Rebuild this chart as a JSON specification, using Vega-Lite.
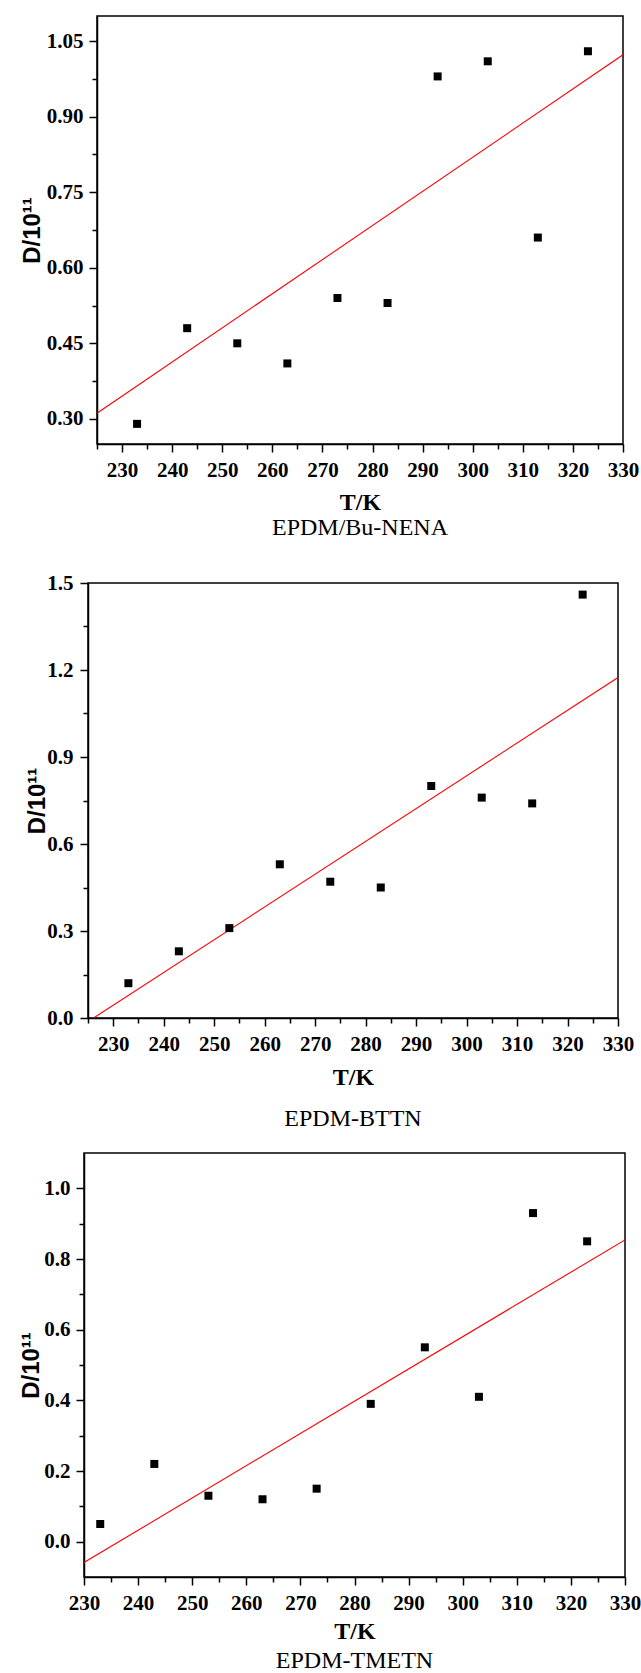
{
  "$schema": "https://vega.github.io/schema/vega-lite/v6.json",
  "padding": {"top": 15, "left": 0, "right": 0, "bottom": 0},
  "background": "white",
  "spacing": 20,
  "align": "none",
  "config": {
    "view": {"stroke": "black", "strokeWidth": 1.5},
    "axis": {
      "grid": false,
      "domainColor": "black",
      "domainWidth": 1.5,
      "tickColor": "black",
      "tickWidth": 1.5,
      "tickSize": 8,
      "labelFont": "Liberation Serif",
      "labelFontWeight": "bold",
      "labelFontSize": 21,
      "labelColor": "black",
      "titleColor": "black",
      "labelFlush": false,
      "labelOverlap": false
    },
    "axisX": {"titleFont": "Liberation Serif", "titleFontWeight": "bold", "titleFontSize": 24, "labelPadding": 7.5},
    "axisY": {"titleFont": "Liberation Sans", "titleFontWeight": "bold", "titleFontSize": 24}
  },
  "datasets": {
    "p1": [
      {"T": 233, "D": 0.29}, {"T": 243, "D": 0.48}, {"T": 253, "D": 0.45}, {"T": 263, "D": 0.41}, {"T": 273, "D": 0.54},
      {"T": 283, "D": 0.53}, {"T": 293, "D": 0.98}, {"T": 303, "D": 1.01}, {"T": 313, "D": 0.66}, {"T": 323, "D": 1.03}
    ],
    "l1": [{"T": 225, "D": 0.311}, {"T": 330, "D": 1.023}],
    "p2": [
      {"T": 233, "D": 0.12}, {"T": 243, "D": 0.23}, {"T": 253, "D": 0.31}, {"T": 263, "D": 0.53}, {"T": 273, "D": 0.47},
      {"T": 283, "D": 0.45}, {"T": 293, "D": 0.80}, {"T": 303, "D": 0.76}, {"T": 313, "D": 0.74}, {"T": 323, "D": 1.46}
    ],
    "l2": [{"T": 226.1, "D": 0.0}, {"T": 330, "D": 1.174}],
    "p3": [
      {"T": 233, "D": 0.05}, {"T": 243, "D": 0.22}, {"T": 253, "D": 0.13}, {"T": 263, "D": 0.12}, {"T": 273, "D": 0.15},
      {"T": 283, "D": 0.39}, {"T": 293, "D": 0.55}, {"T": 303, "D": 0.41}, {"T": 313, "D": 0.93}, {"T": 323, "D": 0.85}
    ],
    "l3": [{"T": 230, "D": -0.059}, {"T": 330, "D": 0.854}]
  },
  "vconcat": [
    {
      "spacing": 0,
      "hconcat": [
        {"width": 18.7, "height": 10, "view": {"stroke": null}, "data": {"values": []}, "mark": "point", "encoding": {}},
        {
          "width": 526, "height": 428,
          "title": {"text": "EPDM/Bu-NENA", "subtitle": " ", "subtitleFontSize": 10, "subtitlePadding": 0.5, "orient": "bottom", "anchor": "middle", "font": "Liberation Serif", "fontSize": 24, "fontWeight": "normal", "color": "black", "offset": 1},
          "resolve": {"axis": {"x": "independent", "y": "independent"}},
          "layer": [
            {
              "data": {"name": "l1"},
              "mark": {"type": "line", "color": "#ff0000", "strokeWidth": 1.1, "clip": true},
              "encoding": {
                "x": {"field": "T", "type": "quantitative", "scale": {"domain": [225, 330], "nice": false, "zero": false},
                  "axis": {"title": "T/K", "orient": "bottom", "titlePadding": 10, "values": [230,240,250,260,270,280,290,300,310,320,330]}},
                "y": {"field": "D", "type": "quantitative", "scale": {"domain": [0.25, 1.1], "nice": false, "zero": false},
                  "axis": {"title": "D/10¹¹", "orient": "left", "titlePadding": 2.25, "labelPadding": 6, "format": ".2f", "values": [0.3,0.45,0.6,0.75,0.9,1.05]}}
              }
            },
            {
              "data": {"name": "p1"},
              "mark": {"type": "square", "size": 64, "color": "black", "opacity": 1, "filled": true},
              "encoding": {
                "x": {"field": "T", "type": "quantitative",
                  "axis": {"title": null, "orient": "bottom", "labels": false, "domain": false, "tickSize": 5, "values": [225,235,245,255,265,275,285,295,305,315,325]}},
                "y": {"field": "D", "type": "quantitative",
                  "axis": {"title": null, "orient": "left", "labels": false, "domain": false, "tickSize": 5, "values": [0.375,0.525,0.675,0.825,0.975]}}
              }
            }
          ]
        }
      ]
    },
    {
      "spacing": 0,
      "hconcat": [
        {"width": 24, "height": 10, "view": {"stroke": null}, "data": {"values": []}, "mark": "point", "encoding": {}},
        {
          "width": 530, "height": 435,
          "title": {"text": "EPDM-BTTN", "orient": "bottom", "anchor": "middle", "font": "Liberation Serif", "fontSize": 24, "fontWeight": "normal", "color": "black", "offset": 17},
          "resolve": {"axis": {"x": "independent", "y": "independent"}},
          "layer": [
            {
              "data": {"name": "l2"},
              "mark": {"type": "line", "color": "#ff0000", "strokeWidth": 1.1, "clip": true},
              "encoding": {
                "x": {"field": "T", "type": "quantitative", "scale": {"domain": [225, 330], "nice": false, "zero": false},
                  "axis": {"title": "T/K", "orient": "bottom", "titlePadding": 11, "values": [230,240,250,260,270,280,290,300,310,320,330]}},
                "y": {"field": "D", "type": "quantitative", "scale": {"domain": [0, 1.5], "nice": false, "zero": false},
                  "axis": {"title": "D/10¹¹", "orient": "left", "titlePadding": -2.95, "labelPadding": 7, "format": ".1f", "values": [0,0.3,0.6,0.9,1.2,1.5]}}
              }
            },
            {
              "data": {"name": "p2"},
              "mark": {"type": "square", "size": 64, "color": "black", "opacity": 1, "filled": true},
              "encoding": {
                "x": {"field": "T", "type": "quantitative",
                  "axis": {"title": null, "orient": "bottom", "labels": false, "domain": false, "tickSize": 5, "values": [225,235,245,255,265,275,285,295,305,315,325]}},
                "y": {"field": "D", "type": "quantitative",
                  "axis": {"title": null, "orient": "left", "labels": false, "domain": false, "tickSize": 5, "values": [0.15,0.45,0.75,1.05,1.35]}}
              }
            }
          ]
        }
      ]
    },
    {
      "spacing": 0,
      "hconcat": [
        {"width": 17.7, "height": 10, "view": {"stroke": null}, "data": {"values": []}, "mark": "point", "encoding": {}},
        {
          "width": 541, "height": 424,
          "title": {"text": "EPDM-TMETN", "orient": "bottom", "anchor": "middle", "font": "Liberation Serif", "fontSize": 24, "fontWeight": "normal", "color": "black", "offset": 5},
          "resolve": {"axis": {"x": "independent", "y": "independent"}},
          "layer": [
            {
              "data": {"name": "l3"},
              "mark": {"type": "line", "color": "#ff0000", "strokeWidth": 1.1, "clip": true},
              "encoding": {
                "x": {"field": "T", "type": "quantitative", "scale": {"domain": [230, 330], "nice": false, "zero": false},
                  "axis": {"title": "T/K", "orient": "bottom", "titlePadding": 6, "values": [230,240,250,260,270,280,290,300,310,320,330]}},
                "y": {"field": "D", "type": "quantitative", "scale": {"domain": [-0.1, 1.1], "nice": false, "zero": false},
                  "axis": {"title": "D/10¹¹", "orient": "left", "titlePadding": 0.35, "labelPadding": 6, "format": ".1f", "values": [0,0.2,0.4,0.6,0.8,1.0]}}
              }
            },
            {
              "data": {"name": "p3"},
              "mark": {"type": "square", "size": 64, "color": "black", "opacity": 1, "filled": true},
              "encoding": {
                "x": {"field": "T", "type": "quantitative",
                  "axis": {"title": null, "orient": "bottom", "labels": false, "domain": false, "tickSize": 5, "values": [235,245,255,265,275,285,295,305,315,325]}},
                "y": {"field": "D", "type": "quantitative",
                  "axis": {"title": null, "orient": "left", "labels": false, "domain": false, "tickSize": 5, "values": [0.1,0.3,0.5,0.7,0.9]}}
              }
            }
          ]
        }
      ]
    }
  ]
}
